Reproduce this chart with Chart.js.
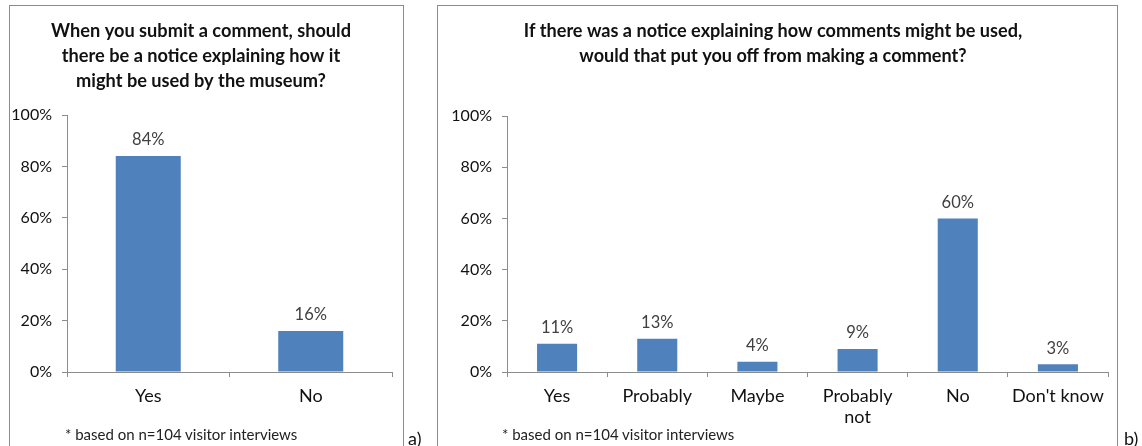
<!DOCTYPE html>
<html>
<head>
<meta charset="utf-8">
<script src="https://cdn.jsdelivr.net/npm/chart.js@4"></script>
<style>
  body { margin: 0; background: #fff; font-family: Lato, sans-serif; }
  .panel { position: absolute; top: 5px; height: 460px; border: 1px solid #8c8c8c; border-bottom: none; }
  .panel canvas { position: absolute; left: 0; top: 0; }
  .note { position: absolute; font-size: 15px; line-height: 19px; color: #222; white-space: nowrap; }
  .tag { position: absolute; font-size: 18px; line-height: 22px; color: #111; }
</style>
</head>
<body>
<div class="panel" style="left:9px;width:393px;">
  <canvas id="chartA" width="393" height="440"></canvas>
</div>
<div class="panel" style="left:437px;width:679px;">
  <canvas id="chartB" width="679" height="440"></canvas>
</div>
<div class="note" style="left:65px;top:425px;">* based on n=104 visitor interviews</div>
<div class="note" style="left:502px;top:425px;">* based on n=104 visitor interviews</div>
<div class="tag" style="left:408px;top:427px;">a)</div>
<div class="tag" style="left:1124px;top:427px;">b)</div>
<script>
var fontFamily = 'Lato, sans-serif';
var barColor = '#4F81BD';

// a) notice on submitting a comment
var labelsA = ['Yes', 'No'];
var valuesA = [84, 16];

// b) would a notice put people off
var labelsB = ['Yes', 'Probably', 'Maybe', ['Probably', 'not'], 'No', "Don't know"];
var valuesB = [11, 13, 4, 9, 60, 3];

var yTicks = [0, 20, 40, 60, 80, 100];

// writes the percentage above every bar
var valueLabels = {
  id: 'valueLabels',
  afterDatasetsDraw: function (chart) {
    var ctx = chart.ctx;
    var meta = chart.getDatasetMeta(0);
    ctx.save();
    ctx.font = '16.5px ' + fontFamily;
    ctx.fillStyle = '#404040';
    ctx.textAlign = 'center';
    ctx.textBaseline = 'middle';
    meta.data.forEach(function (bar, i) {
      ctx.fillText(chart.data.datasets[0].data[i] + '%', bar.x, bar.y - 16);
    });
    ctx.restore();
  }
};

function makeChart(id, labels, values, opts) {
  return new Chart(document.getElementById(id), {
    type: 'bar',
    data: {
      labels: labels,
      datasets: [{
        data: values,
        backgroundColor: barColor,
        categoryPercentage: 1,
        barPercentage: 0.4
      }]
    },
    options: {
      responsive: false,
      animation: false,
      layout: { padding: { right: opts.padRight, top: 0, bottom: 0, left: 0 } },
      plugins: {
        legend: { display: false },
        tooltip: { enabled: false },
        title: {
          display: true,
          text: opts.title,
          color: '#111',
          font: { family: fontFamily, size: opts.titleSize, weight: 'bold', lineHeight: '25px' },
          padding: { top: 13, bottom: opts.titleBottom }
        }
      },
      scales: {
        x: {
          grid: { display: true, offset: true, drawOnChartArea: false, tickLength: 5, color: '#8c8c8c' },
          border: { color: '#8c8c8c' },
          ticks: { color: '#111', font: { family: fontFamily, size: 18 }, padding: 8, maxRotation: 0, autoSkip: false },
          afterFit: function (s) { s.height = 74; }
        },
        y: {
          min: 0,
          max: 100,
          afterBuildTicks: function (s) { s.ticks = yTicks.map(function (v) { return { value: v }; }); },
          grid: { display: true, drawOnChartArea: false, tickLength: 5, color: '#8c8c8c' },
          border: { color: '#8c8c8c' },
          ticks: {
            color: '#111',
            font: { family: fontFamily, size: 16 },
            padding: 10,
            callback: function (v) { return v + '%'; }
          },
          afterFit: function (s) { s.width = opts.yWidth; }
        }
      }
    },
    plugins: [valueLabels]
  });
}

makeChart('chartA', labelsA, valuesA, {
  title: ['When you submit a comment, should', 'there be a notice explaining how it', 'might be used by the museum?'],
  titleSize: 18.2, titleBottom: 21,
  padRight: 11, yWidth: 57
});

makeChart('chartB', labelsB, valuesB, {
  title: ['If there was a notice explaining how comments might be used,', 'would that put you off from making a comment?'],
  titleSize: 18.1, titleBottom: 47,
  padRight: 9, yWidth: 69
});
</script>
</body>
</html>
